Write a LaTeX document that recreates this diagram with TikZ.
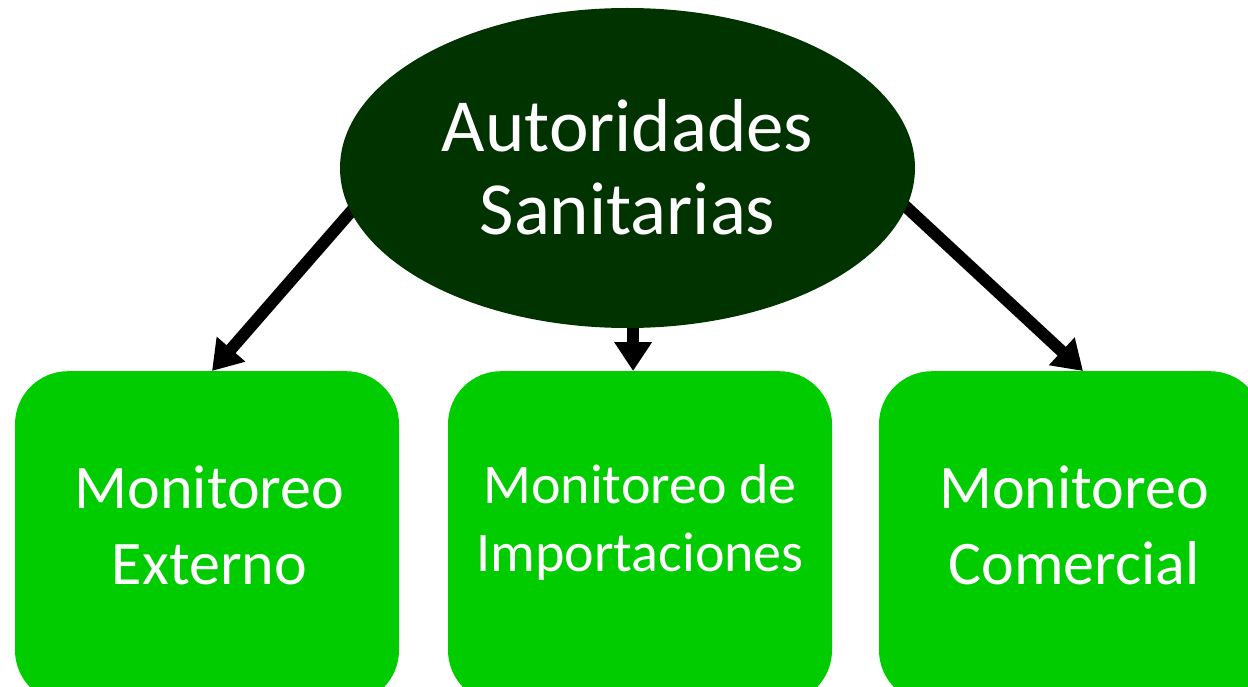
\documentclass[tikz,border=0pt]{standalone}
\usepackage{fontspec}
\setmainfont{Carlito}
\usetikzlibrary{arrows.meta,backgrounds,shapes.geometric}
\definecolor{darkgreen}{HTML}{003300}
\definecolor{boxgreen}{HTML}{00CC00}
\tikzset{
  hub/.style={ellipse, fill=darkgreen, draw=none, minimum width=575pt, minimum height=320pt, inner sep=0pt},
  hubtext/.style={text=white, align=center, font=\fontsize{75}{83}\selectfont},
  box/.style={rectangle, rounded corners=53pt, fill=boxgreen, draw=none, minimum width=384pt, minimum height=332pt, inner sep=0pt, anchor=north},
  boxtext/.style={text=white, align=center, inner sep=0pt},
  conn/.style={line width=12pt, black, -{Triangle[length=29pt,width=36pt]}, shorten <=-14pt}
}
\begin{document}
\begin{tikzpicture}[x=1pt,y=-1pt]
  \useasboundingbox (0,0) rectangle (1248,687);
  \clip (0,0) rectangle (1248,687);
  \node[hub] (A) at (627.5,168) {};
  \node[hubtext] (At) at (627.5,167) {Autoridades\\Sanitarias};
  \node[box] (b1) at (207,371) {};
  \node[box] (b2) at (640,371) {};
  \node[box] (b3) at (1071,371) {};
  \node[boxtext, font=\fontsize{62}{76}\selectfont] (t1) at (209.5,525) {Monitoreo\\Externo};
  \node[boxtext, font=\fontsize{56}{68}\selectfont] (t2) at (640,523) {Monitoreo de\\Importaciones};
  \node[boxtext, font=\fontsize{62}{76}\selectfont] (t3) at (1074,525) {Monitoreo\\Comercial};
  \begin{scope}[on background layer]
    \draw[conn] (A.189) -- ([xshift=5pt]b1.north);
    \draw[conn] (A.272) -- (A.272 |- b2.north);
    \draw[conn] (A.352.7) -- ([xshift=12pt]b3.north);
  \end{scope}
\end{tikzpicture}
\end{document}
